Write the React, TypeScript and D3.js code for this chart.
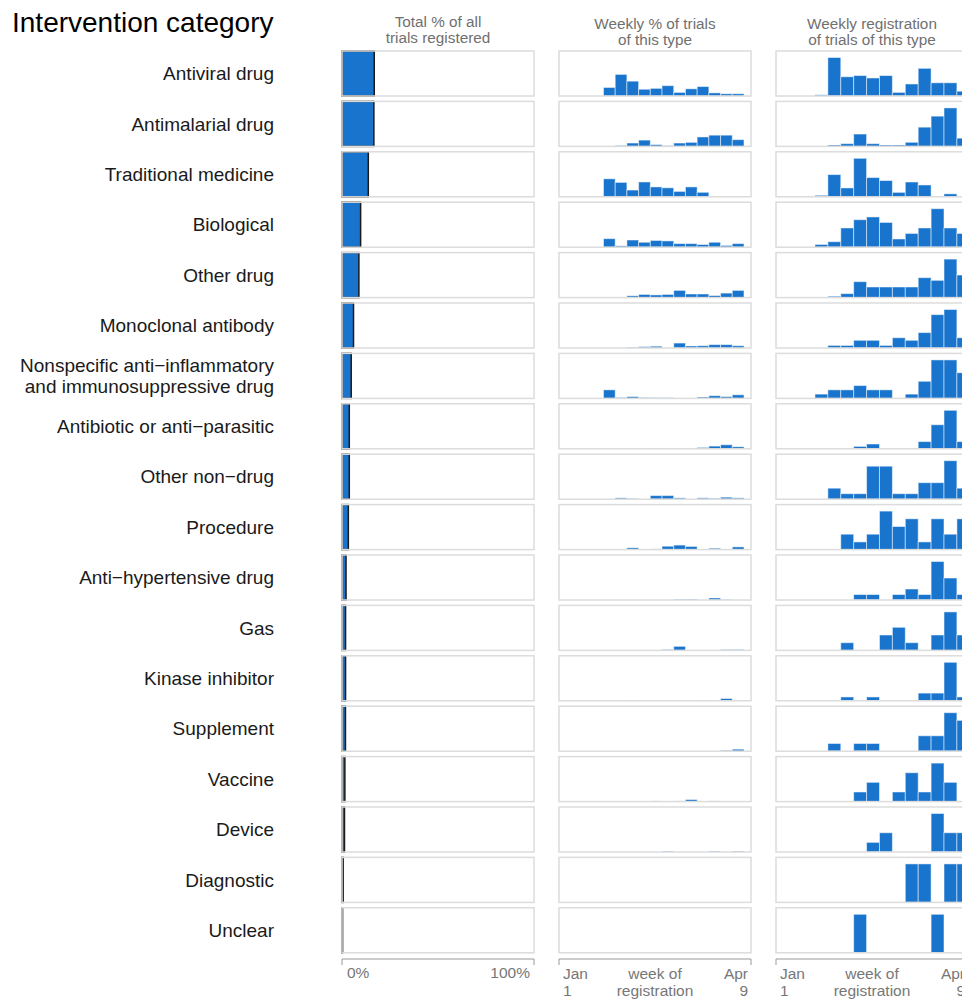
import React from "react";
import * as d3 from "d3";

// intervention categories, top to bottom
const categories = [
  "Antiviral drug",
  "Antimalarial drug",
  "Traditional medicine",
  "Biological",
  "Other drug",
  "Monoclonal antibody",
  "Nonspecific anti\u2212inflammatory\nand immunosuppressive drug",
  "Antibiotic or anti\u2212parasitic",
  "Other non\u2212drug",
  "Procedure",
  "Anti\u2212hypertensive drug",
  "Gas",
  "Kinase inhibitor",
  "Supplement",
  "Vaccine",
  "Device",
  "Diagnostic",
  "Unclear",
];

// total % of all trials registered
const totalPct = [16.8, 16.6, 13.7, 9.7, 8.8, 6.0, 4.8, 3.8, 3.8, 3.3, 2.1, 1.85, 1.85, 1.8, 1.5, 1.3, 0.6, 0.3];

// weekly % of trials of this type (12 weeks)
const weeklyPct = [
  [19, 48, 33, 15, 17, 23, 8, 16, 21, 7, 5, 5],
  [0, 2, 7.5, 14, 4, 1.5, 7.5, 9, 21, 25, 25, 15],
  [40, 32, 15, 33, 22, 20, 12, 22, 10, 0, 0, 0],
  [19, 3, 16, 11, 15, 14, 8, 8, 6, 11, 4, 8],
  [0, 0, 4, 7, 6, 7, 16, 8, 8, 4.5, 10, 16],
  [0, 0, 1.5, 3, 4, 0, 11, 4.5, 5, 7.5, 7.5, 5],
  [19, 2, 4, 2, 1.5, 1.5, 0, 0, 3, 6, 4, 8],
  [0, 0, 0, 0, 1.5, 0, 0, 0, 3, 6, 9, 4.5],
  [0, 3, 1.5, 0, 8, 8, 3, 0, 3, 2, 4.5, 3],
  [0, 0, 4, 0, 1.5, 7.5, 10, 7, 0, 3, 0, 6],
  [0, 0, 0, 0, 0, 0, 1.5, 2, 0, 4.5, 0.8, 0],
  [0, 0, 0.8, 0, 0, 2, 9, 0, 0, 0, 2, 2],
  [0, 0, 1, 0, 0, 0, 0, 0, 1, 0, 5, 0],
  [0, 0, 0, 0, 0, 0, 0, 0, 0, 0, 2, 4.5],
  [0, 0, 0, 0, 1.5, 0, 1.5, 4.5, 0, 1.5, 0, 0],
  [0, 0, 0, 0, 0, 2, 0, 0, 0, 2, 0, 2],
  [0, 0, 0, 0, 0, 0, 0, 0.3, 0.3, 0, 0.3, 0.3],
  [0, 0, 0, 0.3, 0, 0, 0, 0, 0, 0.3, 0, 0],
];

// weekly registrations of trials of this type (counts)
const weeklyCount = [
  [1, 32, 16, 17, 15, 17, 3, 10, 23, 11, 11, 4],
  [0, 1, 2, 9, 2, 1, 1, 3, 14, 22, 28, 6],
  [1, 15, 6, 26, 13, 11, 3, 10, 8, 0, 2, 0],
  [1, 2, 7, 10, 11, 9, 3, 5, 7, 14, 7, 5],
  [0, 1, 3, 12, 8, 8, 8, 8, 15, 13, 29, 17],
  [0, 1, 1, 3, 3, 1, 4, 3, 6, 13, 15, 4],
  [1, 2, 2, 3, 2, 2, 0, 1, 4, 9, 9, 6],
  [0, 0, 0, 1, 2, 0, 0, 0, 3, 10, 16, 3],
  [0, 2, 1, 1, 6, 6, 1, 1, 3, 3, 7, 2],
  [0, 0, 2, 1, 2, 5, 3, 4, 1, 4, 2, 4],
  [0, 0, 0, 1, 1, 0, 1, 2, 1, 7, 4, 1],
  [0, 0, 1, 0, 0, 2, 3, 1, 0, 2, 5, 2],
  [0, 0, 1, 0, 1, 0, 0, 0, 2, 2, 10, 1],
  [0, 1, 0, 1, 1, 0, 0, 0, 2, 2, 5, 4],
  [0, 0, 0, 1, 2, 0, 1, 3, 1, 4, 2, 0],
  [0, 0, 0, 0, 1, 2, 0, 0, 0, 4, 2, 2],
  [0, 0, 0, 0, 0, 0, 0, 1, 1, 0, 1, 1],
  [0, 0, 0, 1, 0, 0, 0, 0, 0, 1, 0, 0],
];

const panelTitles = [
  ["Total % of all", "trials registered"],
  ["Weekly % of trials", "of this type"],
  ["Weekly registration", "of trials of this type"],
];
const pctTicks = ["0%", "100%"];
const dateTicks = [["Jan", "1"], ["week of", "registration"], ["Apr", "9"]];

const FONT = "'Liberation Sans', Arial, Helvetica, sans-serif";
const BLUE = "#1874CD";
const W = 962;
const H = 999;
const PW = 192;
const panelX = [342, 559, 776];

export default function App() {
  const y = d3.scaleBand<string>().domain(categories).range([51, 952.8]).paddingInner(0.107).paddingOuter(0);
  const bh = y.bandwidth();

  const xTotal = d3.scaleLinear().domain([0, 100]).range([panelX[0], panelX[0] + PW]);
  const xPct = d3.scaleLinear().domain([-3.8, 12.6]).range([panelX[1], panelX[1] + PW]);
  const xCnt = d3.scaleLinear().domain([-3.02, 11.86]).range([panelX[2], panelX[2] + PW]);
  const hPct = d3.scaleLinear().domain([0, 100]).range([0, bh]);

  const axisY = 959;

  return (
    <svg width={W} height={H} style={{ position: "absolute", left: 0, top: 0, display: "block", background: "#fff" }} fontFamily={FONT}>
      <text x={12} y={32} fontSize={28} fill="#000">Intervention category</text>

      {panelTitles.map((lines, p) => (
        <text key={p} x={panelX[p] + PW / 2} textAnchor="middle" fontSize={15.3} fill="#707070">
          {lines.map((l, k) => (
            <tspan key={k} x={panelX[p] + PW / 2} y={(p === 0 ? 27 : 29) + k * 15.5}>{l}</tspan>
          ))}
        </text>
      ))}

      {categories.map((cat, r) => {
        const top = y(cat)!;
        const bottom = top + bh;
        const lines = cat.split("\n");
        const hCnt = d3.scaleLinear().domain([0, d3.max(weeklyCount[r])!]).range([0, 38.5]);
        return (
          <g key={cat}>
            <text x={274} y={top + bh / 2} textAnchor="end" fontSize={19} fill="#1a1a1a">
              {lines.map((l, k) => (
                <tspan key={k} x={274} y={top + bh / 2 + (k - (lines.length - 1) / 2) * 21} dy="0.35em">{l}</tspan>
              ))}
            </text>

            {panelX.map((px) => (
              <rect key={"bg" + px} x={px} y={top} width={PW} height={bh} fill="#fff" />
            ))}

            <rect x={xTotal(0)} y={top} width={xTotal(totalPct[r]) - xTotal(0)} height={bh}
              fill={BLUE} stroke="#1a1a1a" strokeWidth={1.5} />

            {weeklyPct[r].map((v, i) => v > 0 && (
              <rect key={"p" + i} x={xPct(i)} width={xPct(i + 1) - xPct(i)} y={bottom - hPct(v)} height={hPct(v)}
                fill={BLUE} stroke="#fff" strokeOpacity={0.5} strokeWidth={1} />
            ))}

            {weeklyCount[r].map((v, i) => v > 0 && (
              <rect key={"c" + i} x={xCnt(i)} width={xCnt(i + 1) - xCnt(i)} y={bottom - hCnt(v)} height={hCnt(v)}
                fill={BLUE} stroke="#fff" strokeOpacity={0.5} strokeWidth={1} />
            ))}

            {panelX.map((px) => (
              <rect key={"bd" + px} x={px} y={top} width={PW} height={bh} fill="none" stroke="#dcdcdc" strokeWidth={1.5} />
            ))}
          </g>
        );
      })}

      {panelX.map((px, p) => (
        <path key={"ax" + p} d={`M${px},${axisY + 6}V${axisY}H${px + PW}V${axisY + 6}`} fill="none" stroke="#999" strokeWidth={1} />
      ))}

      <g fontSize={15.5} fill="#777">
        <text x={xTotal(0) + 5} y={978}>{pctTicks[0]}</text>
        <text x={xTotal(100) - 4} y={978} textAnchor="end">{pctTicks[1]}</text>
        {[panelX[1], panelX[2]].map((px) => (
          <g key={"dt" + px}>
            <text x={px + 4} y={979}>{dateTicks[0][0]}</text>
            <text x={px + 4} y={996}>{dateTicks[0][1]}</text>
            <text x={px + PW / 2} y={979} textAnchor="middle">{dateTicks[1][0]}</text>
            <text x={px + PW / 2} y={996} textAnchor="middle">{dateTicks[1][1]}</text>
            <text x={px + PW - 3} y={979} textAnchor="end">{dateTicks[2][0]}</text>
            <text x={px + PW - 3} y={996} textAnchor="end">{dateTicks[2][1]}</text>
          </g>
        ))}
      </g>
    </svg>
  );
}
